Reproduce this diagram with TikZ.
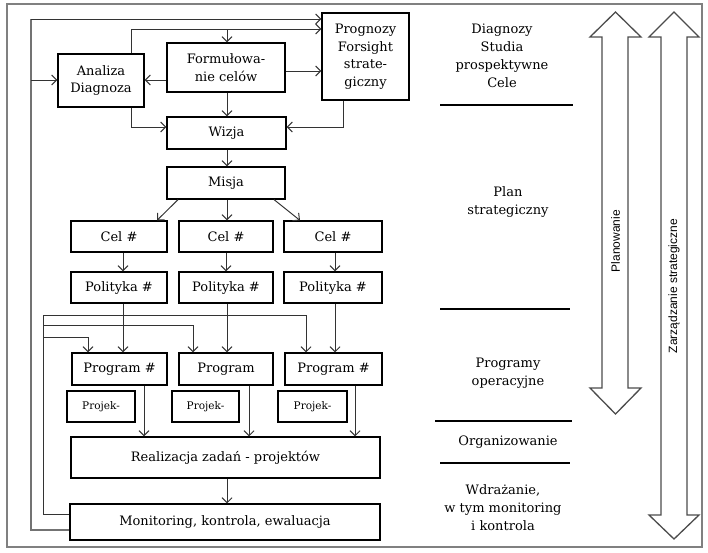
\documentclass[tikz,border=0pt]{standalone}
\usepackage{fontspec}
\setmainfont{DejaVu Serif}
\newfontfamily\lsans{Liberation Sans}
\usetikzlibrary{arrows.meta}
\begin{document}
\begin{tikzpicture}[x=1pt,y=-1pt,
  box/.style={draw=black, line width=1.2pt, fill=white, inner sep=1pt, align=center,
              font=\fontsize{13}{17.5}\selectfont},
  small/.style={box, font=\fontsize{10.5}{12}\selectfont},
  con/.style={draw=black!80, line width=1pt, -{Straight Barb[length=5pt,width=10pt]}},
  line/.style={draw=black!80, line width=1pt},
  fb/.style={draw=black!55, line width=1.3pt},
  lab/.style={align=center, font=\fontsize{13}{18}\selectfont},
  sep/.style={draw=black, line width=1.1pt},
  dbl/.style={draw=black!70, line width=1.3pt, fill=white},
  vlab/.style={rotate=90, font=\lsans\fontsize{12}{12}\selectfont}]
\useasboundingbox (0,0) rectangle (708,552);
\draw[gray, line width=1.5pt] (7,4) rectangle (702,547);

% boxes
\node[box, minimum width=86pt, minimum height=53pt] (ana) at (101,80.5) {Analiza\\Diagnoza};
\node[box, minimum width=118pt, minimum height=49pt] (form) at (226,67.5) {Formułowa-\\nie celów};
\node[box, minimum width=87pt, minimum height=87pt] (prog) at (365.5,56.5) {Prognozy\\Forsight\\strate-\\giczny};
\node[box, minimum width=119pt, minimum height=32pt] (wiz) at (226.5,133) {Wizja};
\node[box, minimum width=118pt, minimum height=32pt] (mis) at (226,183) {Misja};

\node[box, minimum width=96pt, minimum height=31pt] (cel1) at (119,236.5) {Cel \#};
\node[box, minimum width=94pt, minimum height=31pt] (cel2) at (226,236.5) {Cel \#};
\node[box, minimum width=98pt, minimum height=31pt] (cel3) at (333,236.5) {Cel \#};

\node[box, minimum width=96pt, minimum height=31pt] (pol1) at (119,287.5) {Polityka \#};
\node[box, minimum width=94pt, minimum height=31pt] (pol2) at (226,287.5) {Polityka \#};
\node[box, minimum width=98pt, minimum height=31pt] (pol3) at (333,287.5) {Polityka \#};

\node[box, minimum width=95pt, minimum height=32pt] (pgm1) at (119.5,369) {Program \#};
\node[box, minimum width=94pt, minimum height=32pt] (pgm2) at (226,369) {Program};
\node[box, minimum width=97pt, minimum height=32pt] (pgm3) at (333.5,369) {Program \#};

\node[small, minimum width=68pt, minimum height=31pt] (prj1) at (101,406.5) {Projek-};
\node[small, minimum width=67pt, minimum height=31pt] (prj2) at (205.5,406.5) {Projek-};
\node[small, minimum width=69pt, minimum height=31pt] (prj3) at (312.5,406.5) {Projek-};

\node[box, minimum width=309pt, minimum height=41pt] (real) at (225.5,457.5) {Realizacja zadań - projektów};
\node[box, minimum width=310pt, minimum height=36pt] (mon) at (225,522) {Monitoring, kontrola, ewaluacja};

% feedback lines
\draw[fb] (mon.west |- 0,530) -- (31,530) -- (31,19);
\draw[con] (31,19) -- (prog.west |- 0,19);
\draw[con] (31,80) -- (ana.west |- 0,80);
\draw[line] (mon.west |- 0,514) -- (43,514) -- (43,315);
\draw[con] (43,315) -- (306,315) -- (pgm3.north -| 306,0);
\draw[con] (43,325) -- (193,325) -- (pgm2.north -| 193,0);
\draw[con] (43,337) -- (88,337) -- (pgm1.north -| 88,0);

% top connectors
\draw[con] (ana.north -| 131,0) -- (131,29) -- (prog.west |- 0,29);
\draw[con] (227,29) -- (form.north -| 227,0);
\draw[con] (form.west |- 0,80) -- (ana.east |- 0,80);
\draw[con] (form.east |- 0,71) -- (prog.west |- 0,71);
\draw[con] (form.south -| 227,0) -- (wiz.north -| 227,0);
\draw[con] (ana.south -| 131,0) -- (131,127) -- (wiz.west |- 0,127);
\draw[con] (prog.south -| 343,0) -- (343,127) -- (wiz.east |- 0,127);
\draw[con] (wiz.south -| 227,0) -- (mis.north -| 227,0);
\draw[con] (mis.south -| 178,0) -- (cel1.north -| 157,0);
\draw[con] (mis.south -| 227,0) -- (cel2.north -| 227,0);
\draw[con] (mis.south -| 274,0) -- (cel3.north -| 300,0);

\draw[con] (cel1.south -| 123,0) -- (pol1.north -| 123,0);
\draw[con] (cel2.south -| 226,0) -- (pol2.north -| 226,0);
\draw[con] (cel3.south -| 335,0) -- (pol3.north -| 335,0);
\draw[con] (pol1.south -| 123,0) -- (pgm1.north -| 123,0);
\draw[con] (pol2.south -| 227,0) -- (pgm2.north -| 227,0);
\draw[con] (pol3.south -| 335,0) -- (pgm3.north -| 335,0);

\draw[con] (pgm1.south -| 144,0) -- (real.north -| 144,0);
\draw[con] (pgm2.south -| 249,0) -- (real.north -| 249,0);
\draw[con] (pgm3.south -| 355,0) -- (real.north -| 355,0);
\draw[con] (real.south -| 227,0) -- (mon.north -| 227,0);

% right side labels
\node[lab] (t1) at (502,56) {Diagnozy\\Studia\\prospektywne\\Cele};
\draw[sep] (440,105) -- (573,105);
\node[lab] (t2) at (508,202) {Plan\\strategiczny};
\draw[sep] (440,309) -- (570,309);
\node[lab] (t3) at (508,373) {Programy\\operacyjne};
\draw[sep] (435,421) -- (572,421);
\node[lab] (t4) at (508,442) {Organizowanie};
\draw[sep] (440,463) -- (570,463);
\node[lab] (t5) at (503,508) {Wdrażanie,\\w tym monitoring\\i kontrola};

% double arrows
\draw[dbl] (615.5,12) -- (641,37) -- (628,37) -- (628,388) -- (641,388) -- (615.5,414)
  -- (590,388) -- (602,388) -- (602,37) -- (590,37) -- cycle;
\draw[dbl] (674,12) -- (699,37) -- (687,37) -- (687,515) -- (699,515) -- (674,539)
  -- (649,515) -- (661,515) -- (661,37) -- (649,37) -- cycle;
\node[vlab] (lplan) at (615.5,241) {Planowanie};
\node[vlab] (lzarz) at (674,286) {Zarządzanie strategiczne};
\end{tikzpicture}
\end{document}
